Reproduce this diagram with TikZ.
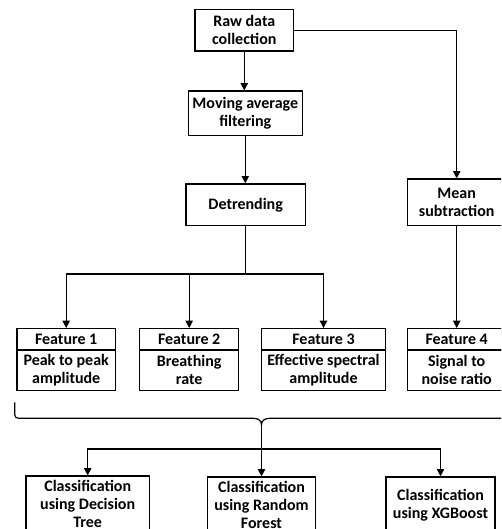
\documentclass[tikz,border=0pt]{standalone}
\usepackage{fontspec}
\setmainfont{Carlito}
\usetikzlibrary{arrows.meta}
\begin{document}
\begin{tikzpicture}[x=0.75pt,y=-0.75pt,
  box/.style={draw,line width=0.9pt,align=center,inner sep=0pt,
    font=\bfseries\fontsize{12}{13.6}\selectfont},
  arr/.style={line width=0.9pt,-{Triangle[width=5.5pt,length=5.5pt]}},
  ln/.style={line width=0.9pt}]
\useasboundingbox (0,0) rectangle (501,529);
\clip (0,0) rectangle (501,529);
% top chain
\node[box,minimum width=74pt,minimum height=31.3pt] (raw) at (244.3,30.2) {Raw data\\collection};
\node[box,minimum width=85.5pt,minimum height=33.2pt] (mov) at (245.3,113.2) {Moving average\\filtering};
\node[box,minimum width=89.5pt,minimum height=31.3pt] (det) at (245.7,204.8) {Detrending};
\node[box,minimum width=74.25pt,minimum height=35pt] (mean) at (456.7,202.3) {Mean\\subtraction};
% features
\node[box,minimum width=73.7pt,minimum height=16pt] (f1h) at (66.2,339.3) {Feature 1};
\node[box,minimum width=73.7pt,minimum height=30.5pt] (f1b) at (66.2,370.3) {Peak to peak\\amplitude};
\node[box,minimum width=74.25pt,minimum height=16pt] (f2h) at (189.2,339.3) {Feature 2};
\node[box,minimum width=74.25pt,minimum height=30.5pt] (f2b) at (189.2,370.3) {Breathing\\rate};
\node[box,minimum width=93.3pt,minimum height=16pt] (f3h) at (323.5,339.3) {Feature 3};
\node[box,minimum width=93.3pt,minimum height=30.5pt] (f3b) at (323.5,370.3) {Effective spectral\\amplitude};
\node[box,minimum width=74.25pt,minimum height=16pt] (f4h) at (456.7,339.3) {Feature 4};
\node[box,minimum width=74.25pt,minimum height=30.5pt] (f4b) at (456.7,370.3) {Signal to\\noise ratio};
% classifiers
\node[box,minimum width=92.5pt,minimum height=42pt] (b1) at (87.7,504) {Classification\\using Decision\\Tree};
\node[box,minimum width=81.3pt,minimum height=42pt] (b2) at (261.5,505) {Classification\\using Random\\Forest};
\node[box,minimum width=81.75pt,minimum height=42pt] (b3) at (440.5,505) {Classification\\using XGBoost};
% connectors
\draw[arr] (raw.south) -- (raw.south |- mov.north);
\draw[arr] (raw.east) -| (mean.north);
\draw[arr] (mov.south) -- (mov.south |- det.north);
\coordinate (br) at (245.7,274);
\draw[arr] (det.south) -- (br) -| (f1h.north);
\draw[arr] (br) -| (f3h.north);
\draw[arr] (f2h.north |- br) -- (f2h.north);
\draw[arr] (mean.south) -- (f4h.north);
% brace
\coordinate (tip) at (261.5,425);
\draw[ln] (14.7,402.3) -- (14.7,410.3) .. controls (14.7,418.3) .. (23,418.3) -- (253,418.3)
  .. controls (258.5,418.3) and (261.5,420.5) .. (tip)
  .. controls (261.5,420.5) and (264.5,418.3) .. (270,418.3) -- (500,418.3)
  .. controls (508.3,418.3) .. (508.3,410.3) -- (508.3,402.3);
\coordinate (hub) at (261.5,449);
\draw[arr] (tip) -- (b2.north);
\draw[arr] (hub) -| (b1.north);
\draw[arr] (hub) -| (b3.north);
\end{tikzpicture}
\end{document}
